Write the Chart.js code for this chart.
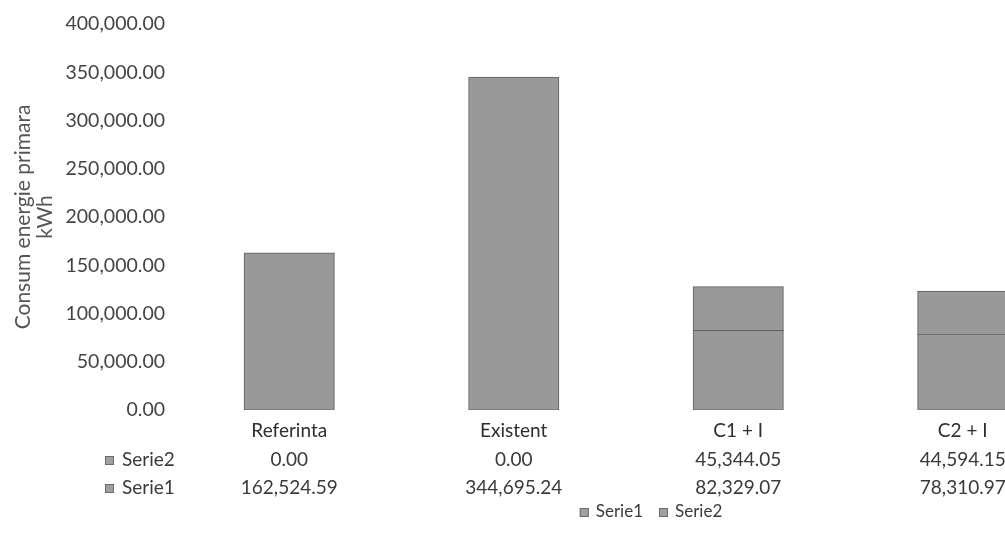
<!DOCTYPE html>
<html>
<head>
<meta charset="utf-8">
<script src="https://cdn.jsdelivr.net/npm/chart.js@4/dist/chart.umd.min.js"></script>
<style>
  html, body { margin: 0; padding: 0; background: #fff; overflow: hidden; }
  #wrap { position: relative; width: 1080px; height: 544px; }
</style>
</head>
<body>
<div id="wrap"><canvas id="c" width="1080" height="544"></canvas></div>
<script>
const categories = ['Referinta', 'Existent', 'C1 + I', 'C2 + I'];
const seriesNames = ['Serie1', 'Serie2'];
const serie1 = [162524.59, 344695.24, 82329.07, 78310.97];
const serie2 = [0.00, 0.00, 45344.05, 44594.15];
const yMin = 0;
const yMax = 400000;
const yStep = 50000;
const yTitle = ['Consum energie primara', 'kWh'];

const FONT = 'Lato, "Open Sans", sans-serif';
const fmt = v => v.toLocaleString('en-US', { minimumFractionDigits: 2, maximumFractionDigits: 2 });
const barFill = '#999999';
const barEdge = '#5f5f5f';
const markFill = '#a0a0a0';
const markEdge = '#6a6a6a';

function marker(ctx, x, y, s) {
  ctx.fillStyle = markFill;
  ctx.fillRect(x, y, s, s);
  ctx.strokeStyle = markEdge;
  ctx.lineWidth = 1;
  ctx.strokeRect(x + 0.5, y + 0.5, s - 1, s - 1);
}

const tablePlugin = {
  id: 'dataTable',
  afterDraw(chart) {
    const ctx = chart.ctx;
    const xs = chart.scales.x;
    ctx.save();
    ctx.font = '19px ' + FONT;
    ctx.textBaseline = 'middle';
    const rows = [
      { name: seriesNames[1], vals: serie2, y: 460 },
      { name: seriesNames[0], vals: serie1, y: 488 }
    ];
    rows.forEach(r => {
      ctx.fillStyle = '#3a3a3a';
      ctx.textAlign = 'center';
      r.vals.forEach((v, i) => {
        ctx.fillText(fmt(v), xs.getPixelForValue(i), r.y);
      });
      marker(ctx, 105, r.y - 4, 9);
      ctx.fillStyle = '#3a3a3a';
      ctx.textAlign = 'left';
      ctx.fillText(r.name, 122, r.y);
    });
    // legend
    ctx.font = '17px ' + FONT;
    const gap = 16, box = 9, boxGap = 7;
    const widths = seriesNames.map(n => box + boxGap + ctx.measureText(n).width);
    const total = widths.reduce((a, b) => a + b, 0) + gap * (seriesNames.length - 1);
    let x = 651 - total / 2;
    const ly = 512;
    seriesNames.forEach((n, i) => {
      marker(ctx, x, ly - 4, box);
      ctx.fillStyle = '#3a3a3a';
      ctx.textAlign = 'left';
      ctx.fillText(n, x + box + boxGap, ly);
      x += widths[i] + gap;
    });
    ctx.restore();
  }
};

new Chart(document.getElementById('c'), {
  type: 'bar',
  data: {
    labels: categories,
    datasets: [
      { label: seriesNames[0], data: serie1, backgroundColor: barFill, borderColor: barEdge, borderWidth: 1, borderSkipped: false, inflateAmount: 0.6 },
      { label: seriesNames[1], data: serie2, backgroundColor: barFill, borderColor: barEdge, borderWidth: 1, borderSkipped: false, inflateAmount: 0.6 }
    ]
  },
  options: {
    responsive: false,
    animation: false,
    layout: { padding: { top: 24, right: 5, left: 0, bottom: 0 } },
    datasets: { bar: { categoryPercentage: 1.0, barPercentage: 0.4 } },
    plugins: { legend: { display: false }, tooltip: { enabled: false } },
    scales: {
      x: {
        stacked: true,
        grid: { display: false },
        border: { display: false },
        ticks: { font: { family: FONT, size: 19 }, color: '#2e2e2e', padding: 1 },
        afterFit: s => { s.height = 134; }
      },
      y: {
        stacked: true,
        min: yMin, max: yMax,
        grid: { display: false },
        border: { display: false },
        ticks: { stepSize: yStep, font: { family: FONT, size: 19.5 }, color: '#444', padding: 4, callback: v => fmt(v) },
        title: { display: true, text: yTitle, font: { family: FONT, size: 21, lineHeight: 1.05 }, color: '#555', padding: { top: 12, bottom: 0 } },
        afterFit: s => { s.width = 177; }
      }
    }
  },
  plugins: [tablePlugin]
});
</script>
</body>
</html>
